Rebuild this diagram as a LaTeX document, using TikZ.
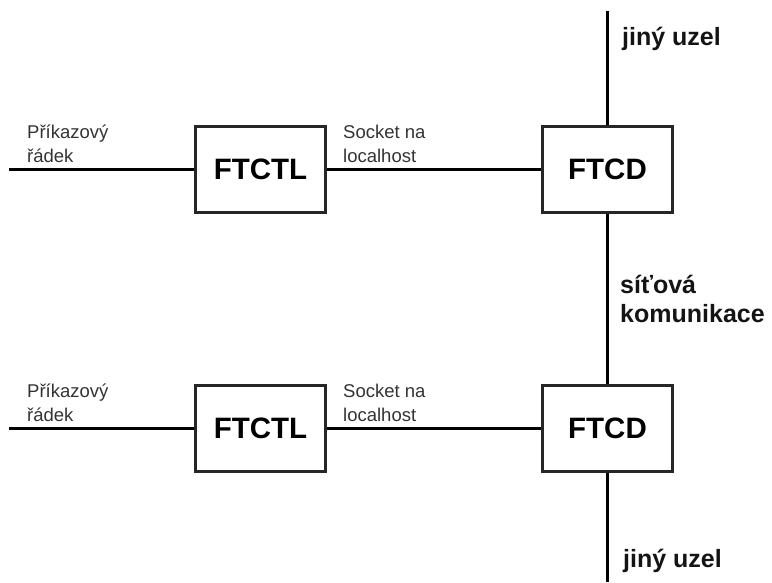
\documentclass[tikz,border=0pt]{standalone}
\usepackage{fontspec}
\setmainfont{Liberation Sans}
\begin{document}
\begin{tikzpicture}[x=1pt,y=-1pt,
  unit/.style={draw=black!85,line width=2.4pt,minimum width=130pt,minimum height=86pt,
    inner sep=0pt,font=\fontsize{29.5}{32}\selectfont\bfseries},
  wire/.style={line width=3pt,black},
  note/.style={anchor=base west,inner sep=0pt,align=left,text=black!80,
    font=\fontsize{18.5}{23.5}\selectfont},
  tag/.style={anchor=base west,inner sep=0pt,align=left,text=black!92,
    font=\fontsize{25}{28.5}\selectfont\bfseries}]
\useasboundingbox (0,0) rectangle (772,582);

% upper pair
\node[unit] (ctlA) at (260.5,169.5) {FTCTL};
\node[unit] (dA)   at (607.5,169.5) {FTCD};
% lower pair
\node[unit] (ctlB) at (260.5,428.5) {FTCTL};
\node[unit] (dB)   at (607.5,428.5) {FTCD};

\coordinate (inA) at (9,169.5);
\coordinate (inB) at (9,428.5);
\coordinate (netTop) at (607.5,11);
\coordinate (netBot) at (607.5,582);

\draw[wire] (inA) -- (ctlA.west);
\draw[wire] (ctlA.east) -- (dA.west);
\draw[wire] (inB) -- (ctlB.west);
\draw[wire] (ctlB.east) -- (dB.west);
\draw[wire] (netTop) -- (dA.north);
\draw[wire] (dA.south) -- (dB.north);
\draw[wire] (dB.south) -- (netBot);

% labels (anchored at the baseline of their last line)
\node[note] (cmdA) at (27,162) {Příkazový\\řádek};
\node[note] (sockA) at (343,162) {Socket na\\localhost};
\node[note] (cmdB) at (27,421) {Příkazový\\řádek};
\node[note] (sockB) at (343,421) {Socket na\\localhost};
\node[tag] (peerA) at (622,45) {jiný uzel};
\node[tag] (net) at (620,322) {síťová\\komunikace};
\node[tag] (peerB) at (623,567) {jiný uzel};
\end{tikzpicture}
\end{document}
